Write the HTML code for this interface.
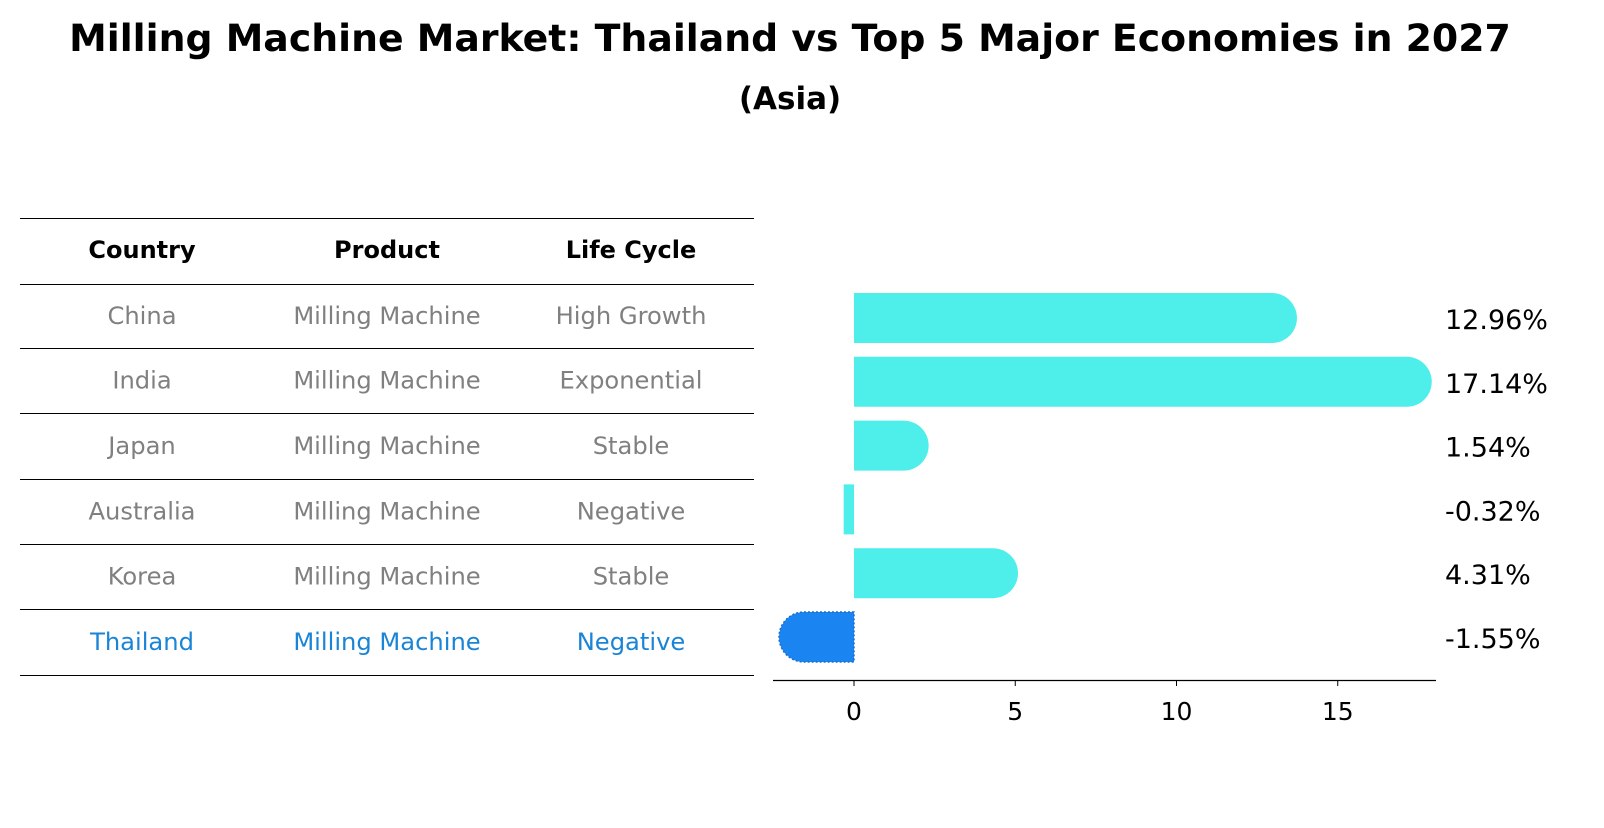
<!DOCTYPE html>
<html><head><meta charset="utf-8"><style>
body{margin:0;background:#fff;width:1604px;height:823px;overflow:hidden;font-family:"Liberation Sans","DejaVu Sans",sans-serif}
</style></head><body>
<svg width="1604" height="823" xmlns="http://www.w3.org/2000/svg" font-family="DejaVu Sans, Liberation Sans, sans-serif">
<text x="790" y="51" text-anchor="middle" font-size="37.8" font-weight="bold">Milling Machine Market: Thailand vs Top 5 Major Economies in 2027</text>
<text x="790" y="109" text-anchor="middle" font-size="31" font-weight="bold">(Asia)</text>
<g id="table"></g>
<g id="chart"></g>
</svg>
<script>
const countries=["China","India","Japan","Australia","Korea","Thailand"];
const products=["Milling Machine","Milling Machine","Milling Machine","Milling Machine","Milling Machine","Milling Machine"];
const lifeCycles=["High Growth","Exponential","Stable","Negative","Stable","Negative"];
const growthValues=[12.96,17.14,1.54,-0.32,4.31,-1.55];
const tickValues=[0,5,10,15];
const NS="http://www.w3.org/2000/svg";
function mk(tag,attrs,parent,text){const e=document.createElementNS(NS,tag);for(const k in attrs)e.setAttribute(k,attrs[k]);if(text!==undefined)e.textContent=text;parent.appendChild(e);return e;}
const table=document.getElementById('table');
const lineYs=[218,284,348,413,479,544,609,675];
lineYs.forEach(y=>{const l=mk('line',{x1:20,x2:754,y1:y+0.5,y2:y+0.5,stroke:'#000','stroke-width':1},table);

});
const colX=[142,387,631];
["Country","Product","Life Cycle"].forEach((h,i)=>{const t=mk('text',{x:colX[i],y:258,'text-anchor':'middle','font-size':24,'font-weight':'bold'},table,h);

});
countries.forEach((c,r)=>{const y=(lineYs[r+1]+lineYs[r+2])/2+8;const col=c==="Thailand"?'#1a85d6':'#808080';
[c,products[r],lifeCycles[r]].forEach((v,i)=>{const t=mk('text',{x:colX[i],y:y,'text-anchor':'middle','font-size':24.2,fill:col},table,v);

});});
const chart=document.getElementById('chart');
const x0=854,pxPerUnit=32.25;
const xs=v=>x0+v*pxPerUnit;
const rowCenter=i=>318+i*63.8;
const bh=50,r=25;
mk('line',{x1:773,x2:1436,y1:680.5,y2:680.5,stroke:'#000','stroke-width':1.2},chart);
tickValues.forEach(t=>{const x=xs(t);mk('line',{x1:x,x2:x,y1:680,y2:686,stroke:'#000'},chart);
const tx=mk('text',{x:x,y:720,'text-anchor':'middle','font-size':25},chart,String(t));

});
growthValues.forEach((v,i)=>{const cy=rowCenter(i),top=cy-bh/2;const isT=countries[i]==="Thailand";const fill=isT?'#1a85f0':'#4eeeea';
const xv=xs(v);let d;
if(v>=0){d=`M${x0},${top} H${xv} A${r},${r} 0 0 1 ${xv},${top+bh} H${x0} Z`;}
else if(isT){d=`M${x0},${top} H${xv} A${r},${r} 0 0 0 ${xv},${top+bh} H${x0} Z`;}
else{d=`M${x0},${top} H${xv} V${top+bh} H${x0} Z`;}
const p=mk('path',{d:d,fill:fill},chart);
if(isT){p.setAttribute('stroke','#1a6fd0');p.setAttribute('stroke-dasharray','2,2');p.setAttribute('stroke-width','1.5');}


const lb=mk('text',{x:1445,y:cy+11,'font-size':27},chart,v.toFixed(2)+'%');

});
</script>
</body></html>
